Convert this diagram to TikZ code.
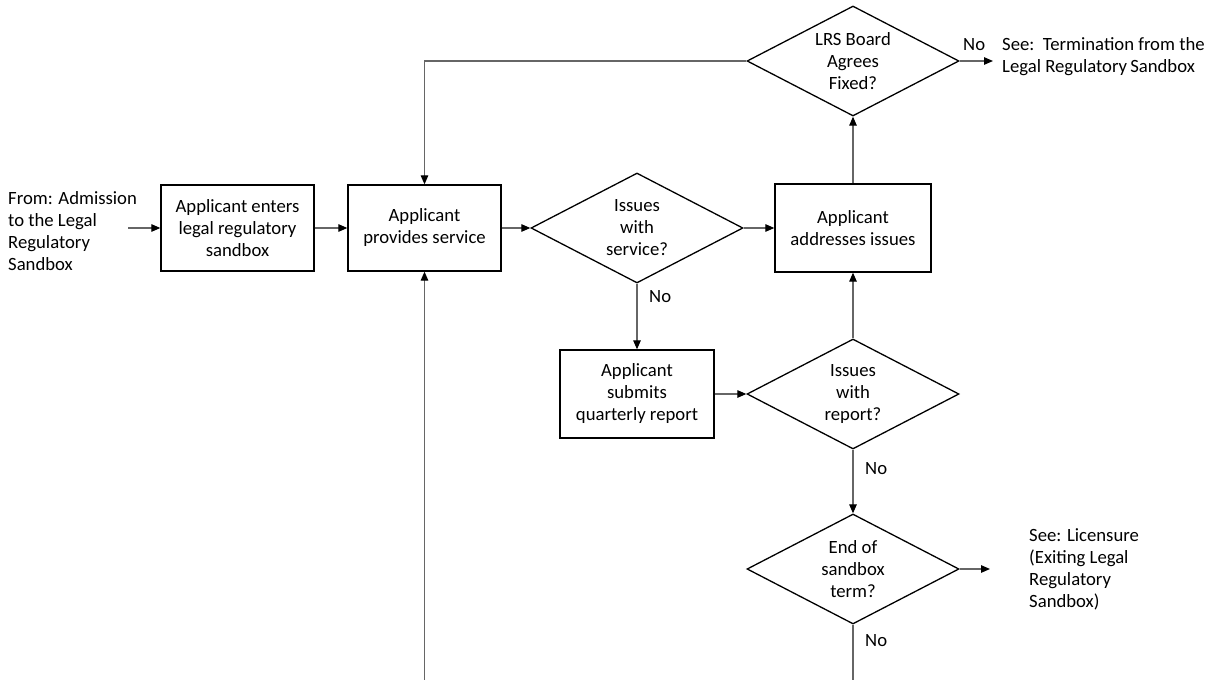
\documentclass[tikz,border=0pt]{standalone}
\usepackage{fontspec}
\setmainfont{Carlito}
\usetikzlibrary{shapes.geometric,arrows.meta}
\begin{document}
\begin{tikzpicture}[x=1pt,y=-1pt,
  every node/.style={font=\fontsize{18.7}{22}\selectfont},
  procbox/.style={draw=black,line width=1.3pt,rectangle,align=center,inner sep=0pt},
  decbox/.style={draw=black,line width=1.3pt,diamond,inner sep=0pt,minimum width=212pt,minimum height=110pt},
  conn/.style={draw=black!60,line width=1.2pt},
  arr/.style={conn,-{Triangle[length=9pt,width=7.5pt,color=black]}},
  plain/.style={align=left,inner sep=0pt}
]
\useasboundingbox (0,0) rectangle (1219,680);
% text nodes
\node[plain,anchor=west] (from) at (8,231) {From: Admission\\to the Legal\\Regulatory\\Sandbox};
\coordinate (in) at (128,228);
% process boxes
\node[procbox,minimum width=153pt,minimum height=86pt] (b1) at (237.5,228) {Applicant enters\\legal regulatory\\sandbox};
\node[procbox,minimum width=153pt,minimum height=86pt] (b2) at (424.5,228) {Applicant\\provides service};
\node[procbox,minimum width=156pt,minimum height=88pt] (b3) at (853,228) {Applicant\\addresses issues};
\node[procbox,minimum width=154pt,minimum height=88pt] (b4) at (637,394) {Applicant\\submits\\quarterly report};
% decisions
\node[decbox,label={[align=center,font=\fontsize{18.7}{22}\selectfont]center:LRS Board\\Agrees\\Fixed?}] (lrs) at (853,61) {};
\node[decbox,label={[align=center,font=\fontsize{18.7}{22}\selectfont]center:Issues\\with\\service?}] (d1) at (637,228) {};
\node[decbox,label={[align=center,font=\fontsize{18.7}{22}\selectfont]center:Issues\\with\\report?}] (d2) at (853,394) {};
\node[decbox,label={[align=center,font=\fontsize{18.7}{22}\selectfont]center:End of\\sandbox\\term?}] (d3) at (853,569) {};
% outside references
\node[plain,anchor=west] (term) at (1002,57) {See:\ \ Termination from the\\Legal Regulatory\,Sandbox};
\node[plain,anchor=west] (lic) at (1029,569) {See: Licensure\\(Exiting Legal\\Regulatory\\Sandbox)};
\coordinate (termin) at (993,61);
\coordinate (licin) at (990,569);
\coordinate (botR) at (853,680);
\coordinate (botL) at (424.5,680);
% connectors
\draw[arr] (in) -- (b1.west |- in);
\draw[arr] (b1.east) -- (b2.west);
\draw[arr] (b2.east) -- (d1.west);
\draw[arr] (d1.east) -- (b3.west);
\draw[arr] (d1.south) -- (b4.north);
\draw[arr] (b4.east) -- (d2.west);
\draw[arr] (d2.north) -- (b3.south);
\draw[arr] (b3.north) -- (lrs.south);
\draw[arr] (lrs.west) -| (b2.north);
\draw[arr] (lrs.east) -- (termin);
\draw[arr] (d2.south) -- (d3.north);
\draw[arr] (d3.east) -- (licin);
\draw[conn] (d3.south) -- (botR);
\draw[arr] (botL) -- (b2.south);
% No labels
\node[plain,anchor=west] (no1) at (649,297) {No};
\node[plain,anchor=west] (no2) at (963,45) {No};
\node[plain,anchor=west] (no3) at (865,469) {No};
\node[plain,anchor=west] (no4) at (865,641) {No};
\end{tikzpicture}
\end{document}
